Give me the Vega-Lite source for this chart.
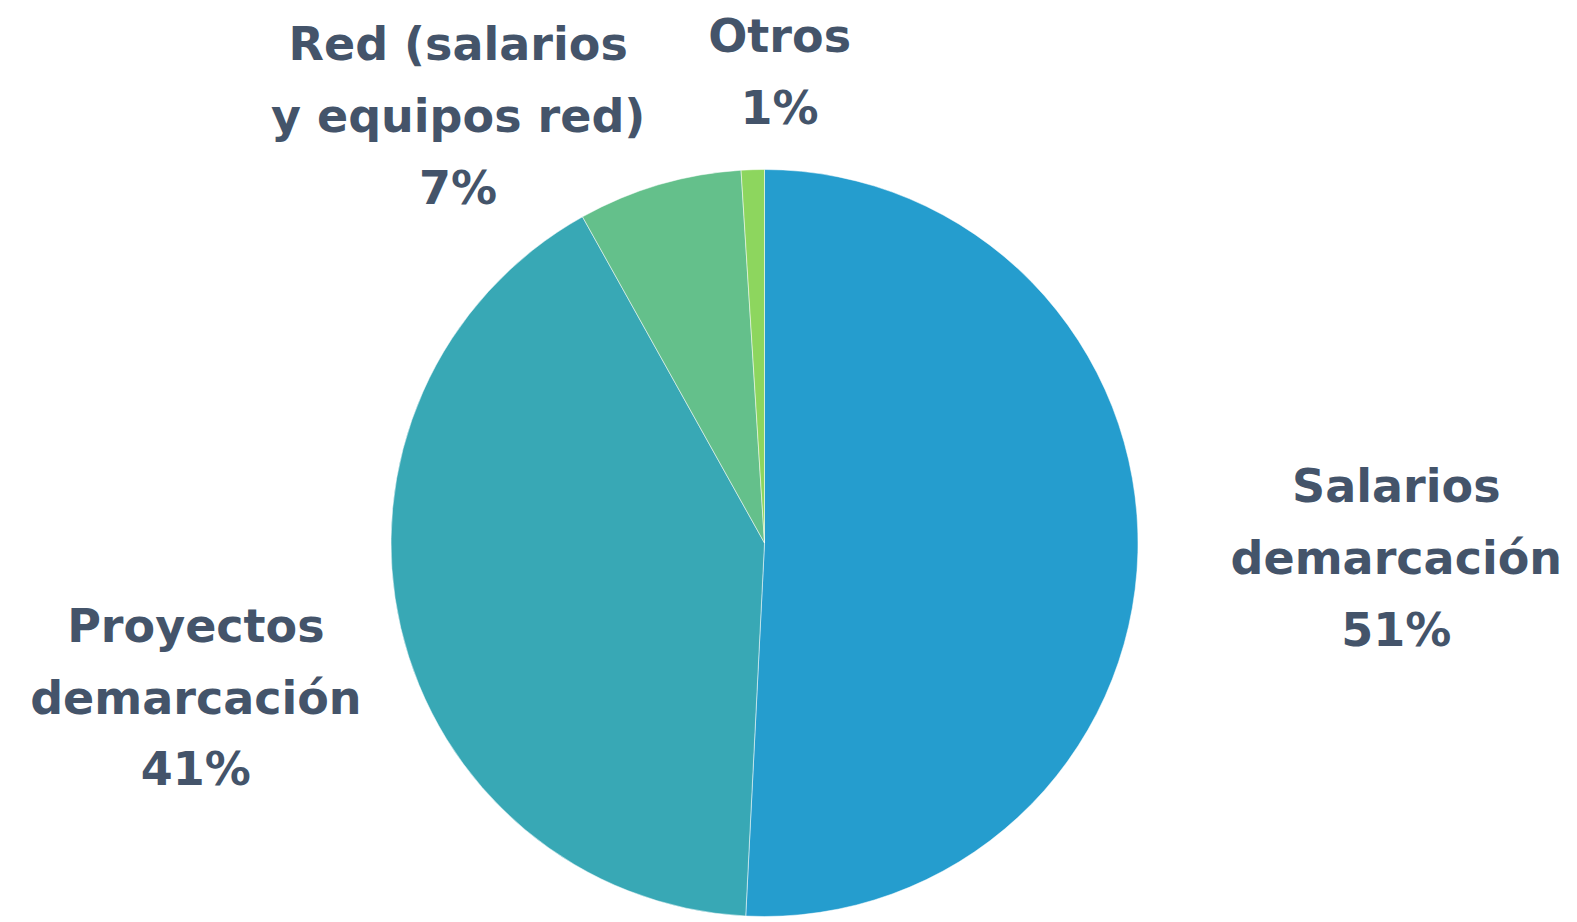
{
  "$schema": "https://vega.github.io/schema/vega-lite/v6.json",
  "width": 1529,
  "height": 758,
  "autosize": {"type": "none"},
  "padding": {"left": 0, "top": 164, "right": 48, "bottom": 0},
  "background": "white",
  "view": {"stroke": null},
  "config": {
    "text": {"font": "DejaVu Sans", "fontWeight": "bold", "fontSize": 46, "lineHeight": 71.7, "fill": "#44546A", "align": "center", "baseline": "middle", "lineBreak": "\n"}
  },
  "data": {
    "values": [
      {"categoria": "Salarios demarcación", "valor": 50.8, "orden": 1, "etiqueta": "Salarios\ndemarcación\n51%"},
      {"categoria": "Proyectos demarcación", "valor": 41.1, "orden": 2, "etiqueta": "Proyectos\ndemarcación\n41%"},
      {"categoria": "Red (salarios y equipos red)", "valor": 7.1, "orden": 3, "etiqueta": "Red (salarios\ny equipos red)\n7%"},
      {"categoria": "Otros", "valor": 1.0, "orden": 4, "etiqueta": "Otros\n1%"}
    ]
  },
  "encoding": {
    "theta": {"field": "valor", "type": "quantitative", "stack": true},
    "order": {"field": "orden", "type": "quantitative"}
  },
  "layer": [
    {
      "mark": {"type": "arc", "radius": 373.5, "stroke": "white", "strokeWidth": 0.5},
      "encoding": {
        "color": {
          "field": "categoria",
          "type": "nominal",
          "scale": {
            "domain": ["Salarios demarcación", "Proyectos demarcación", "Red (salarios y equipos red)", "Otros"],
            "range": ["#259DCE", "#38A8B5", "#64C08B", "#8DD65E"]
          },
          "legend": null
        }
      }
    },
    {
      "mark": {"type": "text", "radius": 632, "dy": -70.5},
      "encoding": {
        "detail": {"field": "categoria", "type": "nominal"},
        "text": {"condition": {"test": "datum.orden === 1", "field": "etiqueta"}, "value": ""}
      }
    },
    {
      "mark": {"type": "text", "radius": 587, "dx": 3, "dy": -48.5},
      "encoding": {
        "detail": {"field": "categoria", "type": "nominal"},
        "text": {"condition": {"test": "datum.orden === 2", "field": "etiqueta"}, "value": ""}
      }
    },
    {
      "mark": {"type": "text", "radius": 526, "dx": -158, "dy": 8},
      "encoding": {
        "detail": {"field": "categoria", "type": "nominal"},
        "text": {"condition": {"test": "datum.orden === 3", "field": "etiqueta"}, "value": ""}
      }
    },
    {
      "mark": {"type": "text", "radius": 473, "dx": 30, "dy": -32},
      "encoding": {
        "detail": {"field": "categoria", "type": "nominal"},
        "text": {"condition": {"test": "datum.orden === 4", "field": "etiqueta"}, "value": ""}
      }
    }
  ]
}
